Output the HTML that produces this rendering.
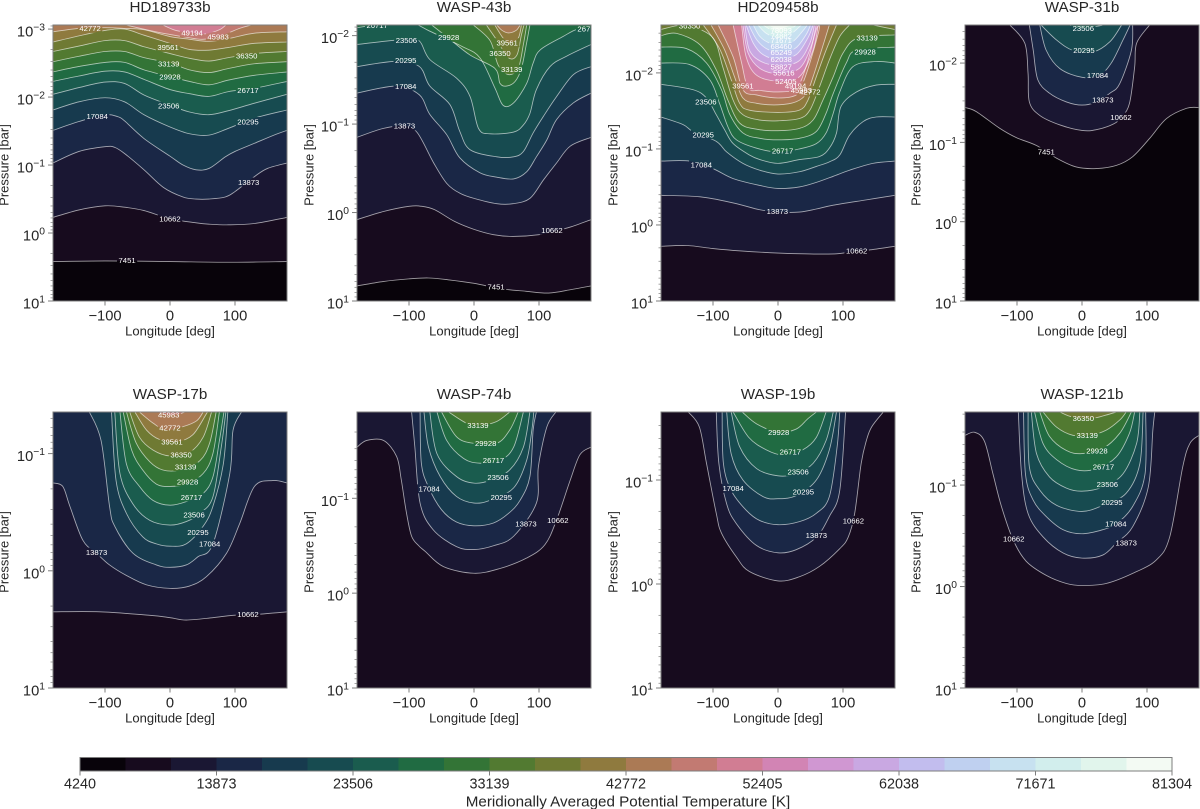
<!DOCTYPE html>
<html lang="en">
<head>
<meta charset="utf-8">
<title>Meridionally Averaged Potential Temperature</title>
<style>
html,body{margin:0;padding:0;background:#fff;width:1200px;height:809px;overflow:hidden}
svg{display:block;font-family:"Liberation Sans",Arial,sans-serif;filter:blur(0.3px)}
</style>
</head>
<body>
<svg id="figure" width="1200" height="809" viewBox="0 0 1200 809" xmlns="http://www.w3.org/2000/svg"></svg>
<script>
// ---------- DATA (longitude in deg, pressure as log10 bar) ----------
const planetNames = ["HD189733b","WASP-43b","HD209458b","WASP-31b","WASP-17b","WASP-74b","WASP-19b","WASP-121b"];
const topLogPressures = [-3.06,-2.12,-2.63,-2.48,-1.355,-1.91,-1.654,-1.72];
const bottomLogPressure = 1;
const contourLevels = [4240,7451,10662,13873,17084,20295,23506,26717,29928,33139,36350,39561,42772,45983,49194,52405,55616,58827,62038,65249,68460,71671,74882,78093,81304];
const colorbarTickLabels = [4240,13873,23506,33139,42772,52405,62038,71671,81304];
const longitudeTicks = [-100,0,100];

const K11 = [-180,-140,-100,-70,-40,0,30,60,90,130,180];
const hd189733bContours = [
 [7451,[-180,-100,0,90,180],[.42,.41,.42,.43,.42]],
 [10662,[-180,-140,-100,-70,-40,0,40,60,90,130,180],[-.23,-.34,-.40,-.38,-.33,-.21,-.15,-.13,-.12,-.14,-.23]],
 [13873,[-180,-140,-100,-85,-70,-40,-10,20,40,60,85,100,130,150,180],[-1.03,-1.20,-1.27,-1.26,-1.17,-.93,-.67,-.53,-.50,-.50,-.53,-.61,-.83,-.95,-1.03]],
 [17084,[-180,-140,-100,-80,-70,-40,0,20,40,60,85,100,130,160,180],[-1.51,-1.64,-1.74,-1.71,-1.65,-1.39,-1.13,-1.0,-.93,-.95,-1.12,-1.20,-1.32,-1.44,-1.51]],
 [20295,K11,[-1.81,-1.93,-1.99,-1.93,-1.74,-1.56,-1.46,-1.44,-1.54,-1.69,-1.81]],
 [23506,K11,[-2.04,-2.14,-2.22,-2.20,-2.03,-1.88,-1.78,-1.74,-1.80,-1.91,-2.04]],
 [26717,K11,[-2.23,-2.31,-2.38,-2.37,-2.26,-2.11,-2.05,-2.01,-2.08,-2.13,-2.23]],
 [29928,K11,[-2.37,-2.45,-2.51,-2.51,-2.40,-2.30,-2.23,-2.18,-2.25,-2.32,-2.37]],
 [33139,K11,[-2.52,-2.60,-2.67,-2.67,-2.58,-2.50,-2.40,-2.36,-2.42,-2.49,-2.52]],
 [36350,K11,[-2.67,-2.75,-2.83,-2.83,-2.74,-2.64,-2.57,-2.53,-2.58,-2.64,-2.67]],
 [39561,K11,[-2.81,-2.90,-2.98,-3.0,-2.91,-2.79,-2.70,-2.69,-2.73,-2.79,-2.81]],
 [42772,K11,[-2.96,-3.01,-3.02,-3.01,-2.99,-2.89,-2.85,-2.82,-2.86,-2.94,-2.96]],
 [45983,[-68,-22,0,25,50,75,107,125],[-3.06,-2.96,-2.92,-2.88,-2.85,-2.89,-3.01,-3.06]],
 [49194,[-11,9,35,55,76,86],[-3.06,-2.98,-2.94,-2.93,-2.99,-3.06]]
];
const hd189733bLabels = [["42772",-123,-3.01],["49194",34,-2.95],["45983",74,-2.89],["39561",-3,-2.73],["36350",118,-2.61],["33139",-2,-2.49],["29928",0,-2.30],["26717",120,-2.10],["23506",-2,-1.87],["20295",120,-1.64],["17084",-112,-1.72],["13873",121,-.75],["10662",0,-.21],["7451",-66,.40]];

const wasp43bContours = [
 [7451,[-180,-140,-100,-70,-40,0,40,80,115,150,180],[.83,.78,.75,.74,.76,.80,.86,.89,.91,.87,.83]],
 [10662,[-180,-140,-100,-80,-60,-30,0,30,60,100,130,150,180],[.08,-.01,-.07,-.07,-.03,.10,.19,.25,.27,.25,.20,.16,.08]],
 [13873,[-180,-140,-107,-87,-62,-42,-22,0,35,60,86,107,127,148,180],[-.85,-.95,-.98,-.90,-.56,-.33,-.22,-.16,-.10,-.10,-.16,-.37,-.56,-.75,-.85]],
 [17084,[-180,-119,-84,-68,-42,-22,9,35,61,81,96,112,127,153,180],[-1.35,-1.43,-1.33,-1.11,-.88,-.62,-.45,-.40,-.38,-.46,-.63,-.82,-1.05,-1.24,-1.35]],
 [20295,[-180,-119,-84,-68,-37,-22,-6,35,61,76,91,107,127,153,180],[-1.65,-1.71,-1.65,-1.43,-1.22,-.92,-.71,-.63,-.63,-.69,-.90,-1.09,-1.31,-1.56,-1.65]],
 [23506,[-180,-119,-86,-68,-27,-6,7,25,61,76,86,96,117,143,180],[-1.90,-1.95,-1.95,-1.73,-1.52,-1.31,-.95,-.89,-.91,-.99,-1.12,-1.39,-1.65,-1.77,-1.90]],
 [26717,[-180,-150,-116,-93,-68,-19,9,32,45,61,81,91,102,137,158,180],[-2.09,-2.12,-2.14,-2.14,-2.05,-1.88,-1.75,-1.41,-1.21,-1.24,-1.46,-1.69,-1.84,-1.99,-2.07,-2.09]],
 [29928,[-65,-39,-6,32,40,50,63,73,81,86],[-2.12,-1.97,-1.78,-1.63,-1.46,-1.43,-1.48,-1.63,-1.92,-2.12]],
 [33139,[-1,25,37,53,68,76,81],[-2.12,-1.94,-1.67,-1.56,-1.63,-1.90,-2.12]],
 [36350,[19,35,53,66,73,77],[-2.12,-1.95,-1.75,-1.78,-2.01,-2.12]],
 [39561,[32,45,55,68,73],[-2.12,-1.97,-1.92,-1.97,-2.12]],
 [42772,[35,43,53,65,71],[-2.12,-2.06,-2.03,-2.06,-2.12]]
];
const wasp43bLabels = [["26717",-149,-2.12],["267",169,-2.08],["23506",-104,-1.95],["29928",-39,-1.98],["39561",51,-1.92],["36350",40,-1.80],["33139",58,-1.62],["20295",-105,-1.72],["17084",-105,-1.43],["13873",-107,-.98],["10662",120,.20],["7451",34,.84]];

const hd209458bContours = [
 [10662,[-180,-140,-100,-60,0,40,90,120,140,180],[.28,.27,.31,.34,.37,.38,.38,.34,.33,.28]],
 [13873,[-180,-120,-69,-28,0,33,59,85,136,180],[-.39,-.37,-.29,-.20,-.17,-.17,-.21,-.26,-.33,-.39]],
 [17084,[-180,-136,-100,-69,-28,0,33,59,85,110,146,180],[-.84,-.84,-.74,-.61,-.52,-.48,-.50,-.56,-.64,-.72,-.81,-.84]],
 [20295,[-180,-146,-131,-95,-79,-54,-28,0,33,59,79,95,110,131,151,180],[-1.42,-1.32,-1.23,-1.10,-.96,-.81,-.72,-.67,-.70,-.77,-.83,-.92,-1.18,-1.36,-1.42,-1.42]],
 [23506,[-180,-131,-110,-95,-82,-69,-44,-28,0,33,64,79,90,97,121,151,180],[-1.85,-1.78,-1.67,-1.45,-1.25,-1.07,-.92,-.86,-.81,-.86,-.90,-1.01,-1.21,-1.56,-1.75,-1.84,-1.85]],
 [26717,[-180,-136,-105,-90,-77,-64,-33,0,33,59,74,85,95,115,150,180],[-2.13,-2.11,-1.91,-1.60,-1.29,-1.12,-1.01,-.96,-1.0,-1.07,-1.21,-1.47,-1.75,-2.08,-2.15,-2.13]],
 [29928,[-180,-141,-110,-87,-74,-54,-28,0,33,59,74,85,105,121,180],[-2.34,-2.32,-2.13,-1.78,-1.45,-1.21,-1.14,-1.12,-1.14,-1.23,-1.47,-1.73,-2.13,-2.30,-2.34]],
 [33139,[-180,-156,-120,-95,-77,-59,-33,0,33,54,69,85,100,123,180],[-2.49,-2.52,-2.37,-2.04,-1.64,-1.34,-1.26,-1.24,-1.27,-1.38,-1.64,-1.95,-2.26,-2.46,-2.50]],
 [36350,[-180,-156,-136,-100,-85,-69,-54,-28,0,33,49,64,79,95,110],[-2.57,-2.62,-2.62,-2.46,-2.08,-1.64,-1.45,-1.38,-1.37,-1.40,-1.51,-1.82,-2.17,-2.48,-2.63]],
 [36350,[146,180],[-2.63,-2.57]],
 [39561,[-115,-90,-72,-59,-44,0,33,46,59,74,90],[-2.63,-2.32,-1.91,-1.60,-1.51,-1.48,-1.51,-1.64,-1.95,-2.30,-2.63]],
 [42772,[-103,-82,-67,-54,-33,0,28,44,54,67,79],[-2.63,-2.30,-1.95,-1.67,-1.60,-1.58,-1.62,-1.73,-1.95,-2.30,-2.63]],
 [45983,[-92,-69,-54,-33,0,28,38,49,62,64],[-2.63,-2.21,-1.78,-1.71,-1.67,-1.71,-1.86,-2.13,-2.52,-2.63]],
 [49194,[-69,-56,-46,-28,0,28,44,58,64],[-2.63,-2.13,-1.80,-1.77,-1.75,-1.80,-2.10,-2.55,-2.63]],
 [52405,[-56,-49,-33,0,33,54,62],[-2.63,-2.21,-1.97,-1.89,-1.95,-2.30,-2.63]],
 [55616,[-54,-46,-28,0,33,51,59],[-2.63,-2.26,-2.06,-1.99,-2.06,-2.35,-2.63]],
 [58827,[-51,-44,-26,0,31,49,56],[-2.63,-2.30,-2.15,-2.10,-2.15,-2.39,-2.63]],
 [62038,[-49,-38,-23,0,28,46,54],[-2.63,-2.39,-2.24,-2.18,-2.24,-2.46,-2.63]],
 [65249,[-45,-33,-18,0,26,43,50],[-2.63,-2.44,-2.32,-2.28,-2.32,-2.50,-2.63]],
 [68460,[-38,-28,-15,0,21,38,45],[-2.63,-2.48,-2.40,-2.37,-2.40,-2.55,-2.63]],
 [71671,[-31,-18,0,18,36],[-2.63,-2.52,-2.46,-2.50,-2.63]],
 [74882,[-23,-10,0,18,28],[-2.63,-2.56,-2.52,-2.57,-2.63]],
 [78093,[-15,0,15,21],[-2.63,-2.57,-2.61,-2.63]]
];
const hd209458bLabels = [["36350",-136,-2.62],["33139",137,-2.46],["29928",134,-2.28],["39561",-54,-1.83],["23506",-111,-1.62],["20295",-115,-1.19],["26717",7,-.98],["17084",-118,-.79],["13873",-1,-.18],["10662",121,.34],["78093",5,-2.56],["74882",5,-2.49],["71671",5,-2.43],["68460",5,-2.35],["65249",5,-2.27],["62038",5,-2.18],["58827",5,-2.08],["55616",9,-2.0],["52405",12,-1.89],["49194",27,-1.83],["45983",36,-1.77],["42772",49,-1.75]];

const wasp31bContours = [
 [7451,[-180,-163,-127,-101,-70,-39,-9,22,53,78,104,130,161,180],[-1.44,-1.39,-1.18,-1.06,-.96,-.80,-.69,-.67,-.71,-.82,-1.05,-1.30,-1.43,-1.44]],
 [10662,[-111,-88,-83,-81,-65,-34,0,22,48,61,73,81,84,104],[-2.48,-2.25,-1.87,-1.51,-1.34,-1.22,-1.15,-1.16,-1.23,-1.32,-1.49,-1.95,-2.25,-2.48]],
 [13873,[-81,-75,-68,-50,-24,0,22,43,58,76,78],[-2.48,-2.16,-1.79,-1.62,-1.51,-1.47,-1.51,-1.62,-1.74,-2.16,-2.48]],
 [17084,[-65,-55,-34,0,27,45,63,74],[-2.48,-2.16,-1.93,-1.82,-1.85,-2.0,-2.29,-2.48]],
 [20295,[-63,-39,-14,17,43,61],[-2.48,-2.29,-2.16,-2.14,-2.27,-2.48]],
 [23506,[-19,0,27,32],[-2.48,-2.44,-2.47,-2.48]]
];
const wasp31bLabels = [["23506",2,-2.44],["20295",3,-2.16],["17084",24,-1.85],["13873",32,-1.54],["10662",60,-1.32],["7451",-55,-.88]];

const wasp17bContours = [
 [10662,[-180,-108,-31,0,25,66,97,138,180],[.35,.35,.38,.40,.42,.40,.38,.37,.35]],
 [13873,[-180,-165,-154,-134,-113,-93,-67,-36,0,30,56,87,107,130,158,180],[-.75,-.72,-.55,-.26,-.15,-.05,.04,.12,.15,.13,.05,-.15,-.40,-.72,-.77,-.75]],
 [17084,[-124,-106,-93,-85,-57,-21,0,25,43,66,92,97,110],[-1.355,-1.11,-.55,-.38,-.15,-.05,-.03,-.05,-.12,-.23,-.83,-1.2,-1.355]],
 [20295,[-90,-83,-67,-42,-21,0,25,51,66,82,89],[-1.355,-.77,-.49,-.29,-.23,-.21,-.23,-.38,-.55,-.91,-1.355]],
 [23506,[-85,-77,-57,-31,0,25,46,66,79,86],[-1.355,-.83,-.57,-.43,-.39,-.42,-.49,-.63,-1.06,-1.355]],
 [26717,[-77,-67,-47,-26,0,25,51,66,76,83],[-1.355,-.91,-.72,-.60,-.56,-.59,-.66,-.80,-1.11,-1.355]],
 [29928,[-72,-59,-42,-21,0,25,51,66,76],[-1.355,-1.03,-.86,-.74,-.72,-.74,-.83,-1.0,-1.355]],
 [33139,[-67,-52,-31,-11,15,46,61,71],[-1.355,-1.09,-.93,-.86,-.86,-.94,-1.09,-1.355]],
 [36350,[-62,-47,-26,0,30,51,64],[-1.355,-1.14,-1.03,-.98,-1.01,-1.14,-1.355]],
 [39561,[-54,-36,-16,10,35,56,58],[-1.355,-1.2,-1.12,-1.10,-1.16,-1.34,-1.355]],
 [42772,[-47,-26,-6,20,41,51],[-1.355,-1.26,-1.2,-1.23,-1.28,-1.355]],
 [45983,[-21,0,15,23],[-1.355,-1.33,-1.34,-1.355]]
];
const wasp17bLabels = [["45983",-2,-1.33],["42772",0,-1.22],["39561",3,-1.10],["36350",17,-.99],["33139",24,-.89],["29928",27,-.76],["26717",33,-.63],["23506",37,-.48],["20295",43,-.33],["17084",61,-.23],["13873",-113,-.16],["10662",120,.37]];

const wasp74bContours = [
 [10662,[-180,-165,-139,-119,-112,-104,-96,-85,-75,-47,0,40,81,109,127,148,163,180],[-1.54,-1.61,-1.61,-1.44,-1.20,-.85,-.60,-.50,-.44,-.28,-.21,-.26,-.37,-.51,-.77,-1.19,-1.46,-1.54]],
 [13873,[-96,-91,-83,-63,-27,0,30,61,96,99,112,126],[-1.91,-1.54,-.95,-.67,-.49,-.46,-.50,-.60,-.95,-1.33,-1.75,-1.91]],
 [17084,[-83,-81,-70,-50,-27,0,30,53,71,86,91,96],[-1.91,-1.37,-1.12,-.88,-.75,-.71,-.74,-.84,-.98,-1.23,-1.72,-1.91]],
 [20295,[-77,-70,-52,-27,0,25,61,81,89,92],[-1.91,-1.54,-1.23,-1.02,-.95,-.98,-1.11,-1.40,-1.72,-1.91]],
 [23506,[-68,-57,-27,0,25,55,76,86],[-1.91,-1.47,-1.23,-1.16,-1.19,-1.30,-1.54,-1.91]],
 [26717,[-57,-42,-16,9,40,61,76],[-1.91,-1.61,-1.42,-1.37,-1.40,-1.54,-1.91]],
 [29928,[-50,-27,-1,35,55,68],[-1.91,-1.65,-1.58,-1.58,-1.72,-1.91]],
 [33139,[-39,-11,9,35,55],[-1.91,-1.79,-1.77,-1.81,-1.91]]
];
const wasp74bLabels = [["33139",6,-1.77],["29928",18,-1.58],["26717",30,-1.40],["23506",37,-1.22],["20295",42,-1.01],["17084",-69,-1.10],["13873",80,-.73],["10662",129,-.77]];

const wasp19bContours = [
 [10662,[-138,-121,-110,-95,-87,-64,-44,0,33,64,95,108,118,128,136,144,162],[-1.654,-1.51,-1.16,-.68,-.49,-.26,-.12,-.03,-.07,-.17,-.34,-.45,-.68,-1.16,-1.38,-1.51,-1.654]],
 [13873,[-95,-91,-79,-64,-33,0,28,59,79,95,104],[-1.654,-1.16,-.77,-.58,-.37,-.30,-.33,-.45,-.65,-.90,-1.654]],
 [17084,[-86,-84,-72,-49,-28,0,33,59,79,91,95],[-1.654,-1.16,-.90,-.71,-.61,-.57,-.60,-.68,-.84,-1.32,-1.654]],
 [20295,[-79,-72,-54,-23,0,28,59,79,90],[-1.654,-1.25,-1.0,-.84,-.82,-.85,-1.0,-1.29,-1.654]],
 [23506,[-72,-59,-33,0,28,54,74,85],[-1.654,-1.32,-1.11,-1.04,-1.06,-1.16,-1.38,-1.654]],
 [26717,[-69,-45,-18,8,38,59,74],[-1.654,-1.41,-1.29,-1.24,-1.29,-1.41,-1.654]],
 [29928,[-55,-33,0,28,46,59],[-1.654,-1.54,-1.46,-1.49,-1.59,-1.654]]
];
const wasp19bLabels = [["29928",1,-1.46],["26717",19,-1.27],["23506",31,-1.08],["20295",39,-.89],["17084",-69,-.92],["13873",59,-.47],["10662",116,-.61]];

const wasp121bContours = [
 [10662,[-180,-165,-150,-137,-124,-106,-86,-55,-24,0,37,78,114,135,155,166,180],[-1.49,-1.52,-1.43,-1.11,-.79,-.46,-.25,-.11,-.03,-.01,-.03,-.13,-.26,-.49,-1.18,-1.41,-1.49]],
 [13873,[-98,-93,-83,-60,-29,0,32,53,78,102,109,112],[-1.72,-1.11,-.72,-.49,-.33,-.28,-.31,-.43,-.59,-.98,-1.54,-1.72]],
 [17084,[-90,-87,-75,-55,-29,0,32,53,78,97,98],[-1.72,-1.11,-.85,-.69,-.56,-.52,-.56,-.62,-.79,-1.11,-1.72]],
 [20295,[-83,-81,-65,-39,0,32,68,89,94],[-1.72,-1.18,-.95,-.80,-.74,-.80,-.92,-1.21,-1.72]],
 [23506,[-78,-70,-50,-24,0,32,63,84,89],[-1.72,-1.31,-1.08,-.97,-.94,-.98,-1.11,-1.41,-1.72]],
 [26717,[-73,-60,-39,-9,22,53,73,81],[-1.72,-1.41,-1.25,-1.15,-1.16,-1.28,-1.51,-1.72]],
 [29928,[-65,-50,-24,0,32,58,76],[-1.72,-1.48,-1.34,-1.31,-1.36,-1.51,-1.72]],
 [33139,[-60,-39,-14,12,37,58,68],[-1.72,-1.57,-1.49,-1.49,-1.54,-1.64,-1.72]],
 [36350,[-34,-14,17,37,53],[-1.72,-1.67,-1.66,-1.69,-1.72]]
];
const wasp121bLabels = [["36350",2,-1.66],["33139",8,-1.49],["29928",23,-1.34],["26717",33,-1.18],["23506",39,-1.01],["20295",46,-.83],["17084",52,-.62],["13873",68,-.43],["10662",-105,-.47]];

const allContours = [hd189733bContours,wasp43bContours,hd209458bContours,wasp31bContours,wasp17bContours,wasp74bContours,wasp19bContours,wasp121bContours];
const allLabels = [hd189733bLabels,wasp43bLabels,hd209458bLabels,wasp31bLabels,wasp17bLabels,wasp74bLabels,wasp19bLabels,wasp121bLabels];

// ---------- STYLE / LAYOUT ----------
const bandPalette = ["#08030a","#170b1e","#1a1733","#1a2746","#173a4e","#174b50","#1a5c4e","#206b42","#337436","#527a31","#6f7a33","#8f7a3e","#ab7a55","#c27a72","#d17d93","#d284b4","#d097d2","#c9a8e2","#c2bdee","#bfd0f0","#c7e1f0","#d2eeed","#e1f5ec","#f3faf3"];
const panelWidth = 234, panelHeight = 276;
const columnLefts = [53,357,661,965];
const rowTops = [25,412];
const yLabelX = [5,310,614,917];
const ink = "#262626", spine = "#7d7d7d";
const NS = "http://www.w3.org/2000/svg";
const fig = document.getElementById("figure");

function add(parent, tag, attrs, text){
  const el = document.createElementNS(NS, tag);
  for (const k in attrs) el.setAttribute(k, attrs[k]);
  if (text !== undefined) el.textContent = text;
  parent.appendChild(el);
  return el;
}
function smoothPath(pts){
  let d = "M" + pts[0][0].toFixed(2) + " " + pts[0][1].toFixed(2);
  for (let i = 0; i < pts.length - 1; i++){
    const p0 = pts[Math.max(i-1,0)], p1 = pts[i], p2 = pts[i+1], p3 = pts[Math.min(i+2,pts.length-1)];
    const c1x = p1[0] + (p2[0]-p0[0])/6, c1y = p1[1] + (p2[1]-p0[1])/6;
    const c2x = p2[0] - (p3[0]-p1[0])/6, c2y = p2[1] - (p3[1]-p1[1])/6;
    d += "C" + c1x.toFixed(2) + " " + c1y.toFixed(2) + " " + c2x.toFixed(2) + " " + c2y.toFixed(2) + " " + p2[0].toFixed(2) + " " + p2[1].toFixed(2);
  }
  return d;
}

function drawPanel(index){
  const x0 = columnLefts[index % 4], y0 = rowTops[Math.floor(index / 4)];
  const topLog = topLogPressures[index];
  const xScale = lon => x0 + (lon + 180) / 360 * panelWidth;
  const yScale = logP => y0 + (logP - topLog) / (bottomLogPressure - topLog) * panelHeight;
  const slug = planetNames[index].toLowerCase();

  const panel = add(fig, "g", {});
  
  

  const title = add(panel, "text", {x: x0 + panelWidth/2, y: y0 - 13, "text-anchor":"middle", "font-size":15.2, fill:ink}, planetNames[index]);
  
  

  const defs = add(panel, "defs", {});
  const clip = add(defs, "clipPath", {id:"clip-" + index});
  add(clip, "rect", {x:x0, y:y0, width:panelWidth, height:panelHeight});
  const mask = add(defs, "mask", {id:"gap-" + index, maskUnits:"userSpaceOnUse", x:x0, y:y0, width:panelWidth, height:panelHeight});
  add(mask, "rect", {x:x0, y:y0, width:panelWidth, height:panelHeight, fill:"#fff"});

  const plot = add(panel, "g", {"clip-path":"url(#clip-" + index + ")"});
  const contours = allContours[index];
  const baseBand = contourLevels.indexOf(contours[0][0]) - 1;
  const base = add(plot, "rect", {x:x0, y:y0, width:panelWidth, height:panelHeight, fill:bandPalette[baseBand]});
  
  

  contours.forEach(c => {
    const pts = c[1].map((lon, i) => [xScale(lon), yScale(c[2][i])]);
    const first = pts[0], last = pts[pts.length-1];
    const d = smoothPath(pts) + "L" + last[0].toFixed(2) + " " + (y0-5) + "L" + first[0].toFixed(2) + " " + (y0-5) + "Z";
    const band = add(plot, "path", {d:d, fill:bandPalette[contourLevels.indexOf(c[0])]});
    
    
  });

  const lines = add(plot, "g", {mask:"url(#gap-" + index + ")", fill:"none", stroke:"#fff", "stroke-opacity":0.62, "stroke-width":0.85});
  contours.forEach(c => {
    const pts = c[1].map((lon, i) => [xScale(lon), yScale(c[2][i])]);
    const line = add(lines, "path", {d:smoothPath(pts)});
    
    
  });

  allLabels[index].forEach(l => {
    const cx = xScale(l[1]), cy = yScale(l[2]);
    const w = l[0].length * 4.3 + 3;
    add(mask, "rect", {x:cx - w/2, y:cy - 4.5, width:w, height:9, fill:"#000"});
    const t = add(plot, "text", {x:cx, y:cy + 2.8, "text-anchor":"middle", "font-size":7.7, fill:"#fff"}, l[0]);
    
    
  });

  const frame = add(panel, "rect", {x:x0, y:y0, width:panelWidth, height:panelHeight, fill:"none", stroke:spine, "stroke-width":1});
  
  

  longitudeTicks.forEach(v => {
    const x = xScale(v);
    add(panel, "line", {x1:x, x2:x, y1:y0+panelHeight, y2:y0+panelHeight+4.5, stroke:spine, "stroke-width":1});
    const t = add(panel, "text", {x:x, y:y0+panelHeight+19.5, "text-anchor":"middle", "font-size":14.7, fill:ink}, v < 0 ? "\u2212" + Math.abs(v) : String(v));
    
    
  });
  const xt = add(panel, "text", {x:x0+panelWidth/2, y:y0+panelHeight+34.5, "text-anchor":"middle", "font-size":13, fill:ink}, "Longitude [deg]");
  
  

  for (let d = Math.ceil(topLog); d <= bottomLogPressure; d++){
    const y = yScale(d);
    add(panel, "line", {x1:x0-5, x2:x0, y1:y, y2:y, stroke:spine, "stroke-width":1});
    const t = add(panel, "text", {x:x0-8, y:y+7.5, "text-anchor":"end", "font-size":14.7, fill:ink});
    
    
    const base10 = document.createTextNode("10");
    t.appendChild(base10);
    add(t, "tspan", {dy:-6, "font-size":10.3}, d < 0 ? "\u2212" + Math.abs(d) : String(d));
  }
  for (let d = Math.floor(topLog); d < bottomLogPressure; d++){
    for (let m = 2; m <= 9; m++){
      const v = d + Math.log10(m);
      if (v < topLog) continue;
      add(panel, "line", {x1:x0-2.5, x2:x0, y1:yScale(v), y2:yScale(v), stroke:spine, "stroke-width":0.7});
    }
  }
  const lx = yLabelX[index % 4], ly = y0 + panelHeight/2 + 2;
  const yt = add(panel, "text", {x:lx, y:ly, transform:"rotate(-90 " + lx + " " + ly + ")", "text-anchor":"middle", "dominant-baseline":"middle", "font-size":13, fill:ink}, "Pressure [bar]");
  
  
}

function drawColorbar(){
  const left = 80, right = 1172, top = 757.5, bottom = 771;
  const first = contourLevels[0], lastV = contourLevels[contourLevels.length-1];
  const xScale = v => left + (v - first) / (lastV - first) * (right - left);
  const g = add(fig, "g", {});
  
  
  bandPalette.forEach((c, i) => {
    const x1 = xScale(contourLevels[i]), x2 = xScale(contourLevels[i+1]);
    const r = add(g, "rect", {x:x1, y:top, width:x2-x1+0.3, height:bottom-top, fill:c});
    
    
  });
  const border = add(g, "rect", {x:left, y:top, width:right-left, height:bottom-top, fill:"none", stroke:spine, "stroke-width":1});
  
  
  colorbarTickLabels.forEach(v => {
    const x = xScale(v);
    add(g, "line", {x1:x, x2:x, y1:bottom, y2:bottom+4.5, stroke:spine, "stroke-width":1});
    const t = add(g, "text", {x:x, y:788.5, "text-anchor":"middle", "font-size":14.4, fill:ink}, String(v));
    
    
  });
  const title = add(g, "text", {x:628, y:806.5, "text-anchor":"middle", "font-size":15.2, fill:ink}, "Meridionally Averaged Potential Temperature [K]");
  
  
}

planetNames.forEach((_, i) => drawPanel(i));
drawColorbar();
</script>
</body>
</html>
